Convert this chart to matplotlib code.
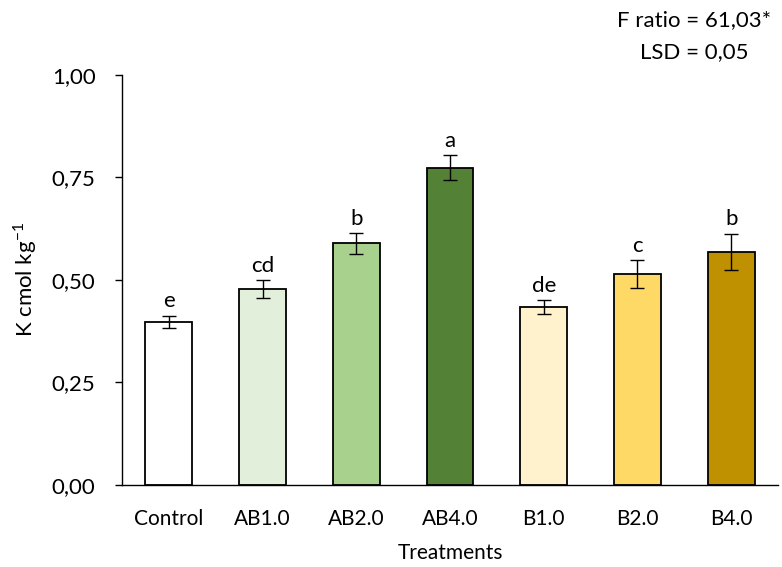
import numpy as np
import matplotlib
matplotlib.use("Agg")
import matplotlib.pyplot as plt

# data
treatments = ["Control", "AB1.0", "AB2.0", "AB4.0", "B1.0", "B2.0", "B4.0"]
k_values = [0.398, 0.478, 0.589, 0.774, 0.434, 0.514, 0.568]
k_errors = [0.015, 0.022, 0.026, 0.030, 0.016, 0.034, 0.045]
letters = ["e", "cd", "b", "a", "de", "c", "b"]
bar_colors = ["#FFFFFF", "#E2EFDA", "#A9D18E", "#538135", "#FFF2CC", "#FFD966", "#BF9000"]

plt.rcParams['font.family'] = ['Lato', 'DejaVu Sans']

fig = plt.figure(figsize=(7.82, 5.67), dpi=100)
ax = fig.add_axes([0.156, 0.1446, 0.839, 0.7234])

x = np.arange(len(treatments))
ax.bar(x, k_values, width=0.5, color=bar_colors, edgecolor="black", linewidth=1.3, zorder=2)
ax.errorbar(x, k_values, yerr=k_errors, fmt="none", ecolor="black", elinewidth=1.0,
            capsize=5, capthick=1.0, zorder=3)

# significance letters above the error bars
for xi, v, e, lab in zip(x, k_values, k_errors, letters):
    ax.annotate(lab, (xi, v + e), xytext=(0, 3), textcoords="offset points",
                ha="center", va="bottom", fontsize=16)

ax.set_xlim(-0.5, len(treatments) - 0.5)
ax.set_ylim(0, 1.0)
ax.set_yticks([0, 0.25, 0.5, 0.75, 1.0])
ax.set_yticklabels(["0,00", "0,25", "0,50", "0,75", "1,00"], fontsize=16)
ax.set_xticks(x)
ax.set_xticklabels(treatments, fontsize=15)
ax.tick_params(axis="x", length=0, pad=17)
ax.tick_params(axis="y", direction="out", length=5, width=1, pad=14)

for s in ["top", "right"]:
    ax.spines[s].set_visible(False)
ax.spines["left"].set_linewidth(1)
ax.spines["bottom"].set_linewidth(1)

ax.set_xlabel("Treatments", fontsize=15, labelpad=10)
ax.set_ylabel("K cmol kg$^{\\mathregular{-1}}$", fontsize=16, labelpad=9)

fig.text(0.888, 0.965, "F ratio = 61,03*", ha="center", va="center", fontsize=16)
fig.text(0.888, 0.908, "LSD = 0,05", ha="center", va="center", fontsize=16)

fig.savefig("out.png", dpi=100)
